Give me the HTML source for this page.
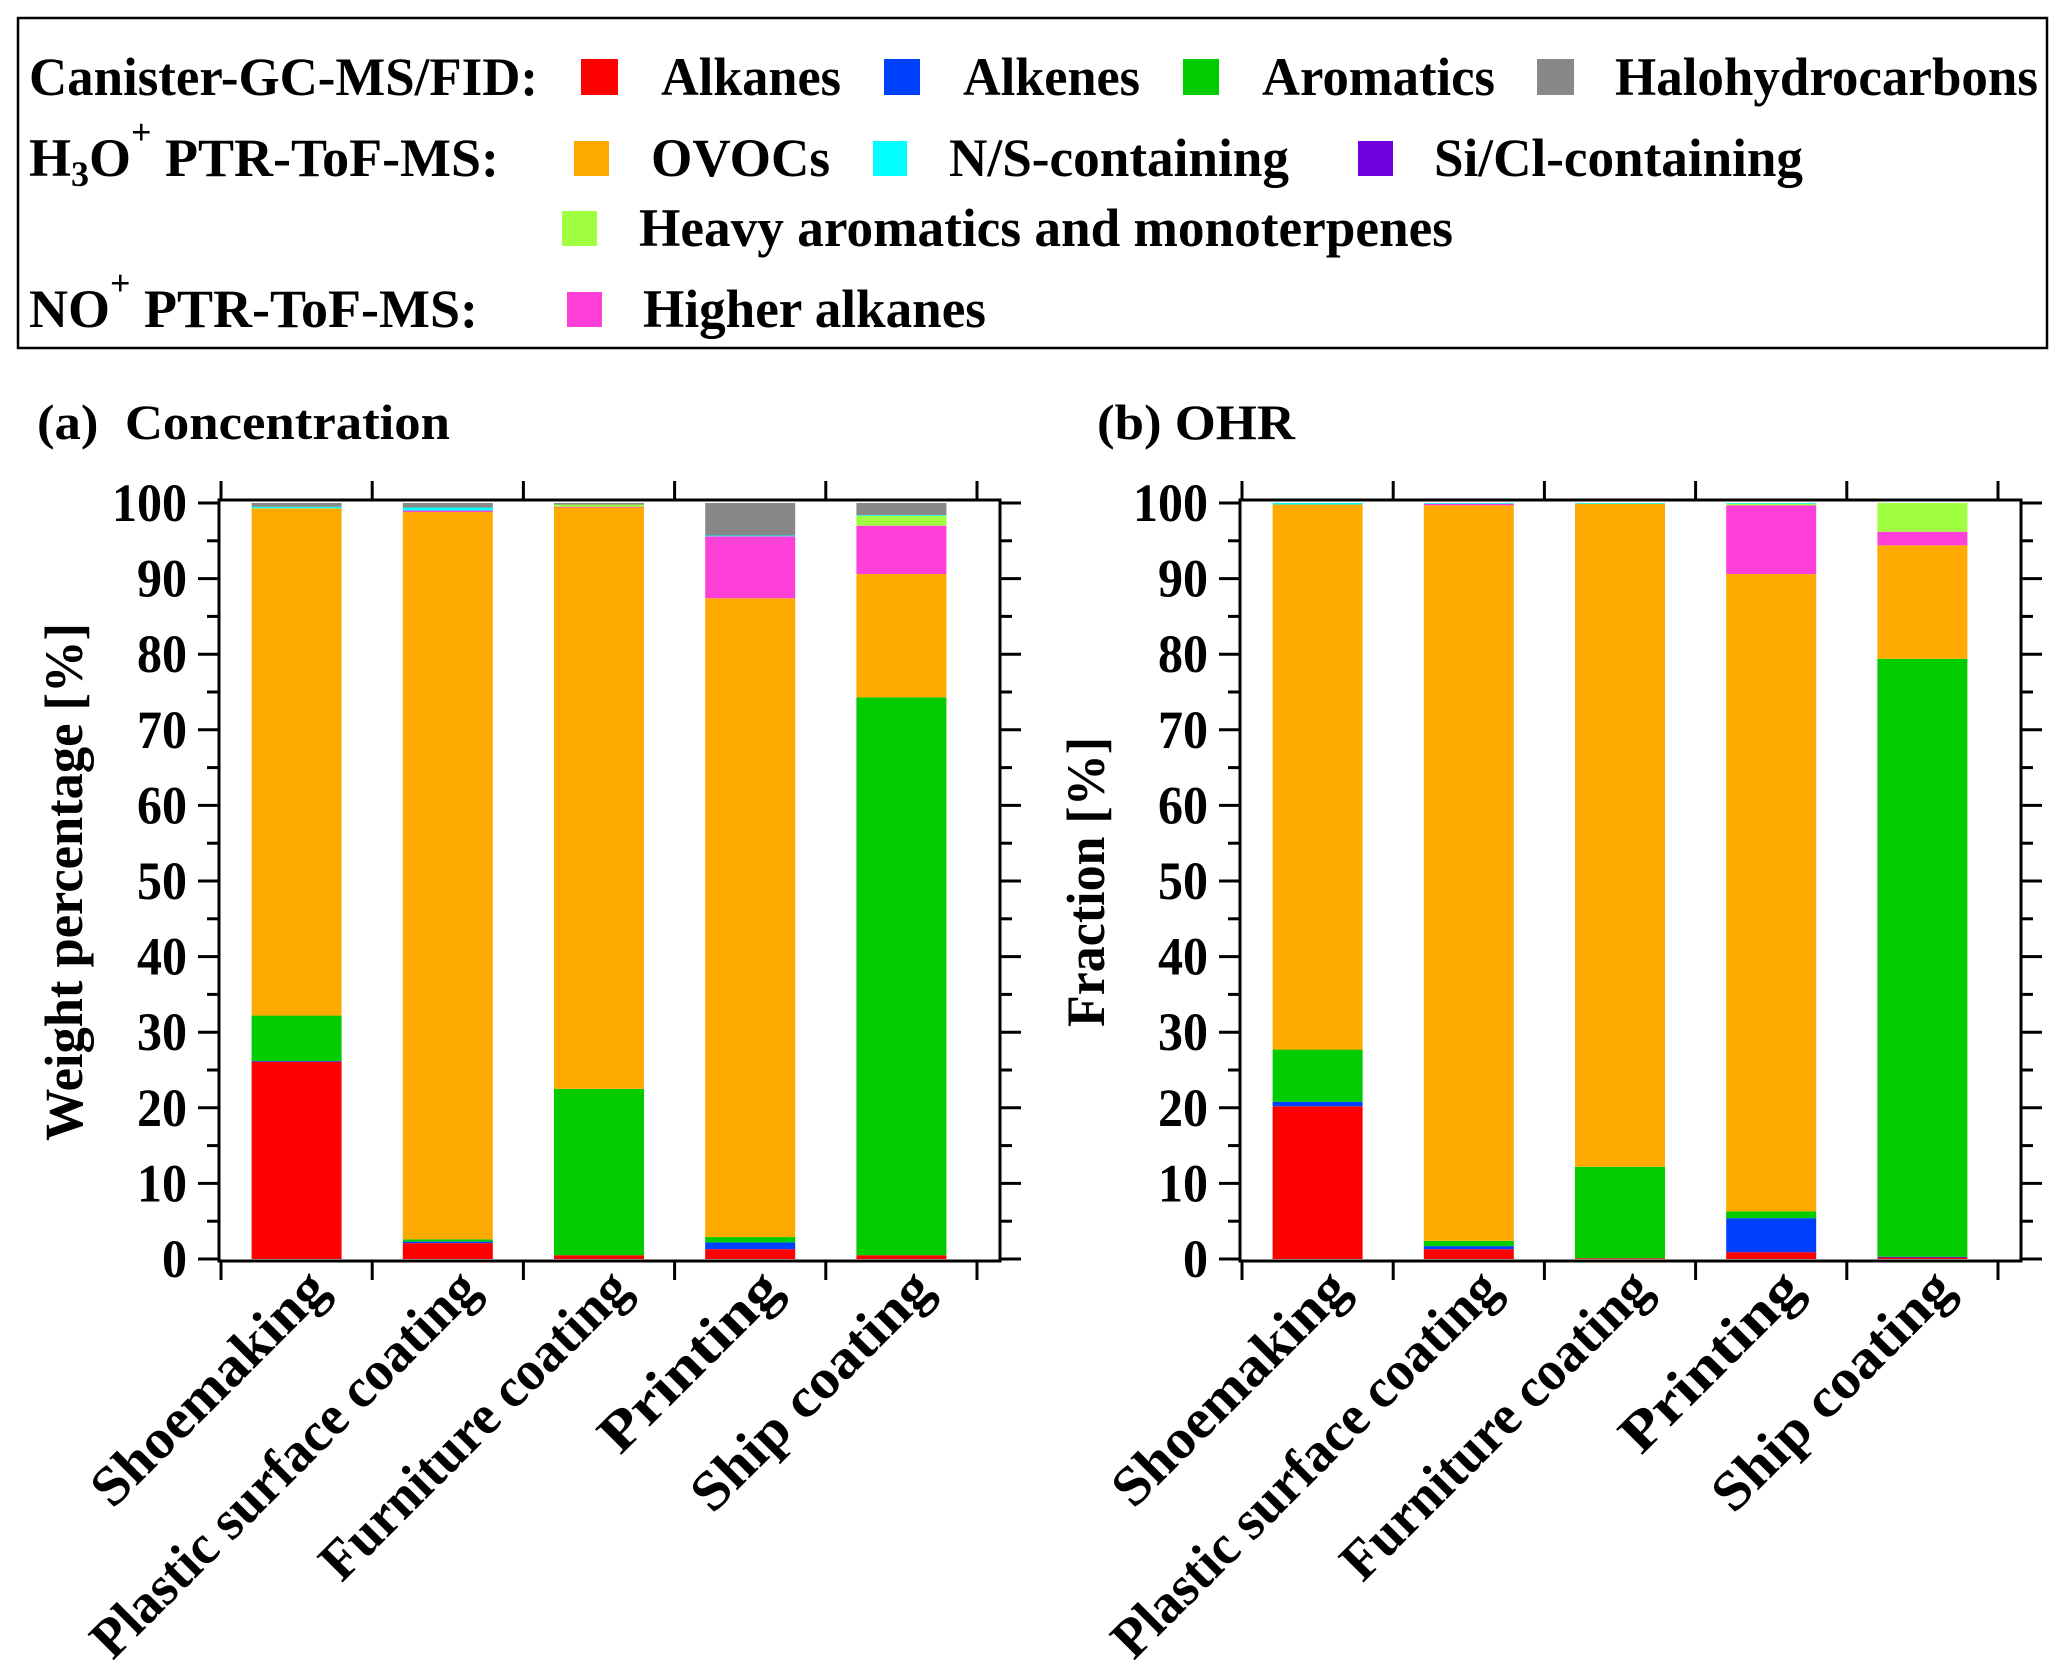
<!DOCTYPE html>
<html><head><meta charset="utf-8"><title>VOC composition</title>
<style>html,body{margin:0;padding:0;background:#fff}svg{display:block}text{font-family:"Liberation Serif","Times New Roman",serif;font-weight:bold;fill:#000}</style>
</head><body>
<svg id="fig" width="2067" height="1673" viewBox="0 0 2067 1673" xmlns="http://www.w3.org/2000/svg">
<g id="legend">
<rect x="18" y="18" width="2029" height="330" fill="none" stroke="#000" stroke-width="2.5"/>
<text x="29" y="95" font-size="54" textLength="509" lengthAdjust="spacingAndGlyphs">Canister-GC-MS/FID:</text>
<rect x="581" y="59" width="37" height="36" fill="#ff0000"/>
<text x="661" y="95" font-size="54" textLength="180" lengthAdjust="spacingAndGlyphs">Alkanes</text>
<rect x="884" y="59" width="36" height="36" fill="#0040ff"/>
<text x="963" y="95" font-size="54" textLength="177" lengthAdjust="spacingAndGlyphs">Alkenes</text>
<rect x="1183" y="59" width="36" height="36" fill="#00cc00"/>
<text x="1262" y="95" font-size="54" textLength="233" lengthAdjust="spacingAndGlyphs">Aromatics</text>
<rect x="1537" y="59" width="37" height="36" fill="#888888"/>
<text x="1615" y="95" font-size="54" textLength="423" lengthAdjust="spacingAndGlyphs">Halohydrocarbons</text>

<text x="29" y="176" font-size="54">H<tspan font-size="36" dy="10">3</tspan><tspan dy="-10">O</tspan><tspan font-size="36" dy="-32">+</tspan><tspan dy="32"> PTR-ToF-MS:</tspan></text>
<rect x="574" y="141" width="35" height="35" fill="#ffaa00"/>
<text x="651" y="176" font-size="54" textLength="179" lengthAdjust="spacingAndGlyphs">OVOCs</text>
<rect x="873" y="141" width="34" height="35" fill="#00ffff"/>
<text x="949" y="176" font-size="54" textLength="340" lengthAdjust="spacingAndGlyphs">N/S-containing</text>
<rect x="1358" y="141" width="35" height="35" fill="#7000e0"/>
<text x="1434" y="176" font-size="54" textLength="369" lengthAdjust="spacingAndGlyphs">Si/Cl-containing</text>

<rect x="562" y="211" width="35" height="35" fill="#a0ff40"/>
<text x="639" y="246" font-size="54" textLength="814" lengthAdjust="spacingAndGlyphs">Heavy aromatics and monoterpenes</text>

<text x="29" y="327" font-size="54">NO<tspan font-size="36" dy="-32">+</tspan><tspan dy="32"> PTR-ToF-MS:</tspan></text>
<rect x="567" y="292" width="35" height="35" fill="#ff40d8"/>
<text x="643" y="327" font-size="54" textLength="343" lengthAdjust="spacingAndGlyphs">Higher alkanes</text>
</g>
<text x="37" y="439" font-size="50" textLength="413" lengthAdjust="spacingAndGlyphs" xml:space="preserve">(a)  Concentration</text>
<text x="1097" y="439" font-size="50" textLength="198" lengthAdjust="spacingAndGlyphs">(b) OHR</text>
<g id="panelA"></g>
<g id="panelB"></g>
</svg>
<script>
const categories = ["Shoemaking","Plastic surface coating","Furniture coating","Printing","Ship coating"];
const yTicks = [0,10,20,30,40,50,60,70,80,90,100];
const seriesNames = ["alkanes","alkenes","aromatics","ovocs","higher-alkanes","heavy-aromatics","ns-containing","sicl-containing","halohydrocarbons"];
const seriesColors = ["#ff0000","#0040ff","#00cc00","#ffaa00","#ff40d8","#a0ff40","#00ffff","#7000e0","#888888"];
// Panel (a) concentration weight percentage
const aAlkanes   = [26.1, 2.1, 0.5, 1.3, 0.5];
const aAlkenes   = [0.1, 0.2, 0.0, 0.9, 0.0];
const aAromatics = [6.0, 0.3, 22.0, 0.7, 73.8];
const aOvocs     = [67.1, 96.2, 76.9, 84.5, 16.3];
const aHigherAlk = [0.0, 0.2, 0.1, 8.2, 6.4];
const aHeavy     = [0.0, 0.0, 0.3, 0.0, 1.3];
const aNS        = [0.2, 0.4, 0.0, 0.1, 0.1];
const aSiCl      = [0.0, 0.0, 0.0, 0.0, 0.0];
const aHalo      = [0.5, 0.6, 0.2, 4.3, 1.6];
// Panel (b) OHR fraction
const bAlkanes   = [20.2, 1.3, 0.1, 0.9, 0.2];
const bAlkenes   = [0.6, 0.4, 0.0, 4.5, 0.1];
const bAromatics = [6.9, 0.7, 12.1, 0.9, 79.1];
const bOvocs     = [72.1, 97.3, 87.7, 84.3, 15.0];
const bHigherAlk = [0.0, 0.2, 0.0, 9.1, 1.8];
const bHeavy     = [0.0, 0.0, 0.0, 0.2, 3.8];
const bNS        = [0.2, 0.1, 0.1, 0.1, 0.0];
const bSiCl      = [0.0, 0.0, 0.0, 0.0, 0.0];
const bHalo      = [0.0, 0.0, 0.0, 0.0, 0.0];

const NS = "http://www.w3.org/2000/svg";
function mk(tag, attrs, parent){const e=document.createElementNS(NS,tag);for(const k in attrs)e.setAttribute(k,attrs[k]);parent.appendChild(e);return e;}
function labelLen(s){
  const widths = {"Shoemaking":308,"Plastic surface coating":522,"Furniture coating":412,"Printing":232,"Ship coating":315};
  return widths[s] || Math.round(s.length * 26);
}

function drawPanel(g, x0, prefix, series, yTitle, titleLen){
  const x1 = x0 + 781, yTop = 500, yBot = 1261;
  const y = v => 1259 - v * 7.56;
  const catW = 151.2, barW = 90;
  const cx = i => x0 + 2 + catW * (i + 0.5);
  for (let i = 0; i < categories.length; i++) {
    let cum = 0;
    for (let s = 0; s < series.length; s++) {
      const v = series[s][i];
      if (v <= 0) { continue; }
      const r = mk('rect', {x: cx(i) - barW/2, y: y(cum + v), width: barW, height: y(cum) - y(cum + v), fill: seriesColors[s]}, g);
      
      
      cum += v;
    }
  }
  const fr = mk('rect', {x: x0, y: yTop, width: x1 - x0, height: yBot - yTop, fill: 'none', stroke: '#000', 'stroke-width': 3}, g);
  
  
  for (let k = 0; k < yTicks.length; k++) {
    const t = yTicks[k], yy = y(t);
    const l1 = mk('line', {x1: x0 - 21, x2: x0, y1: yy, y2: yy, stroke: '#000', 'stroke-width': 3}, g);
    
    
    const l2 = mk('line', {x1: x1, x2: x1 + 21, y1: yy, y2: yy, stroke: '#000', 'stroke-width': 3}, g);
    
    
    const str = String(t);
    const tx = mk('text', {x: x0 - 32, y: yy + 18, 'font-size': 54, 'text-anchor': 'end', textLength: str.length * 25, lengthAdjust: 'spacingAndGlyphs'}, g);
    tx.textContent = str;
    
    
    if (k < yTicks.length - 1) {
      const ym = y(t + 5);
      const m1 = mk('line', {x1: x0 - 12, x2: x0, y1: ym, y2: ym, stroke: '#000', 'stroke-width': 3}, g);
      
      
      const m2 = mk('line', {x1: x1, x2: x1 + 12, y1: ym, y2: ym, stroke: '#000', 'stroke-width': 3}, g);
      
      
    }
  }
  for (let i = 0; i <= categories.length; i++) {
    const xx = x0 + 2 + catW * i;
    const t1 = mk('line', {x1: xx, x2: xx, y1: 481, y2: yTop, stroke: '#000', 'stroke-width': 3}, g);
    
    
    const t2 = mk('line', {x1: xx, x2: xx, y1: yBot, y2: 1280, stroke: '#000', 'stroke-width': 3}, g);
    
    
  }
  for (let i = 0; i < categories.length; i++) {
    const px = cx(i) + 34, py = 1292;
    const tx = mk('text', {x: px, y: py, 'font-size': 56, 'text-anchor': 'end', textLength: labelLen(categories[i]), lengthAdjust: 'spacingAndGlyphs', transform: 'rotate(-45 ' + px + ' ' + py + ')'}, g);
    tx.textContent = categories[i];
    
    
  }
  const tX = prefix === 'a' ? 82 : 1104;
  const yt = mk('text', {x: tX, y: 882, 'font-size': 54, 'text-anchor': 'middle', textLength: titleLen, lengthAdjust: 'spacingAndGlyphs', transform: 'rotate(-90 ' + tX + ' 882)'}, g);
  yt.textContent = yTitle;
  
  
}
drawPanel(document.getElementById('panelA'), 219, 'a', [aAlkanes,aAlkenes,aAromatics,aOvocs,aHigherAlk,aHeavy,aNS,aSiCl,aHalo], 'Weight percentage [%]', 518);
drawPanel(document.getElementById('panelB'), 1240, 'b', [bAlkanes,bAlkenes,bAromatics,bOvocs,bHigherAlk,bHeavy,bNS,bSiCl,bHalo], 'Fraction [%]', 290);
</script>
</body></html>
